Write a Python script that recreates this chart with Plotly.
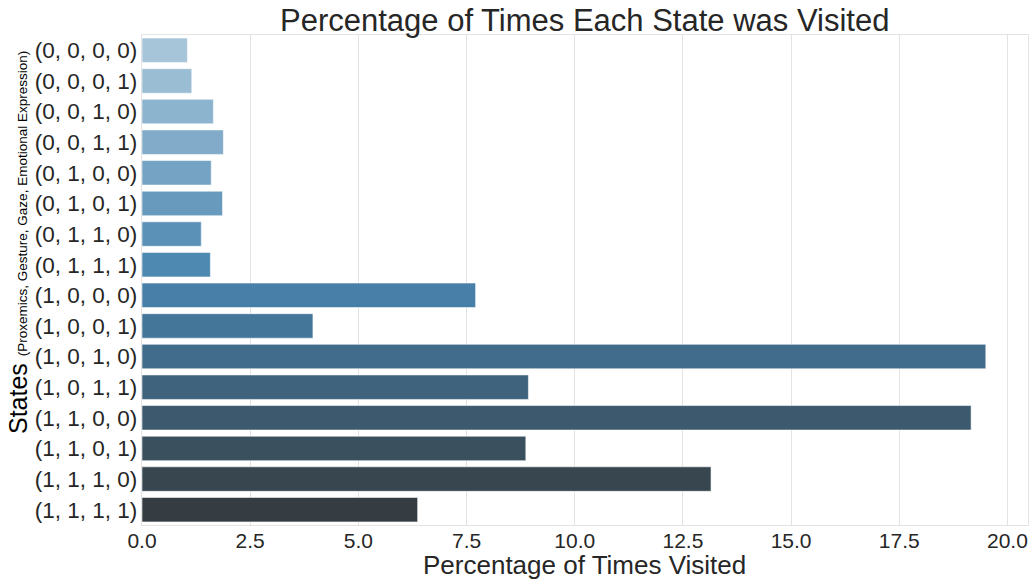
import colorsys
import numpy as np
import plotly.graph_objects as go

states = ["(0, 0, 0, 0)", "(0, 0, 0, 1)", "(0, 0, 1, 0)", "(0, 0, 1, 1)",
          "(0, 1, 0, 0)", "(0, 1, 0, 1)", "(0, 1, 1, 0)", "(0, 1, 1, 1)",
          "(1, 0, 0, 0)", "(1, 0, 0, 1)", "(1, 0, 1, 0)", "(1, 0, 1, 1)",
          "(1, 1, 0, 0)", "(1, 1, 0, 1)", "(1, 1, 1, 0)", "(1, 1, 1, 1)"]
percentages = [1.05, 1.15, 1.65, 1.88, 1.60, 1.86, 1.37, 1.58,
               7.71, 3.95, 19.50, 8.93, 19.16, 8.87, 13.15, 6.37]
x_ticks = [0, 2.5, 5, 7.5, 10, 12.5, 15, 17.5, 20]

title_text = "Percentage of Times Each State was Visited"
x_title = "Percentage of Times Visited"
y_title_main = "States"
y_title_sub = "(Proxemics, Gesture, Gaze, Emotional Expression)"

# --- seaborn "Blues_d" palette (blend of Blues + #333333), desaturated 0.75 ---
blues_pts = np.array([(247, 251, 255), (222, 235, 247), (198, 219, 239), (158, 202, 225),
                      (107, 174, 214), (66, 146, 198), (33, 113, 181), (8, 81, 156),
                      (8, 48, 107)], dtype=float) / 255.0


def interp(stops, t):
    pos = np.linspace(0, 1, len(stops))
    return np.array([np.interp(t, pos, stops[:, k]) for k in range(3)])


base = np.array([interp(blues_pts, 1 / 3), interp(blues_pts, 2 / 3), np.array([0.2, 0.2, 0.2])])
n = len(states)
colors = []
for t in np.linspace(0, 1, n + 2)[1:-1]:
    r, g, b = interp(base, t)
    h, l, s = colorsys.rgb_to_hls(r, g, b)
    r, g, b = colorsys.hls_to_rgb(h, l, s * 0.75)
    colors.append("rgb({:.0f},{:.0f},{:.0f})".format(r * 255, g * 255, b * 255))

text_color = "#262626"
grid_color = "#e3e3e3"
font_family = "Liberation Sans, Arial, sans-serif"

# plot-area geometry (pixels)
L, R, T, B = 142, 2, 35, 58
W, H = 1030, 583
pw, ph = W - L - R, H - T - B


def px_x(x):
    return (x - L) / pw


def px_y(y):
    return (H - B - y) / ph


fig = go.Figure(go.Bar(
    x=percentages, y=states, orientation="h",
    marker=dict(color=colors, line=dict(color="rgba(255,255,255,0.55)", width=1)),
    width=0.8,
))

fig.update_layout(
    width=W, height=H,
    margin=dict(l=L, r=R, t=T, b=B, autoexpand=False),
    paper_bgcolor="white", plot_bgcolor="white",
    font=dict(family=font_family, color=text_color),
    showlegend=False,
)

fig.update_xaxes(
    range=[0, max(percentages) * 1.05],
    tickvals=x_ticks, tickformat=".1f",
    tickfont=dict(size=21, color=text_color),
    showgrid=True, gridcolor=grid_color, gridwidth=1.3,
    zeroline=False, showline=True, linecolor=grid_color, linewidth=1.3, mirror=True,
    ticks="", ticklabelstandoff=-3, automargin=False,
)
fig.update_yaxes(
    autorange="reversed",
    tickfont=dict(size=22.5, color=text_color),
    showgrid=False, zeroline=False, showline=True, linecolor=grid_color, linewidth=1.3,
    mirror=True, ticks="", ticklabelstandoff=-1, automargin=False,
)

fig.add_annotation(
    text=title_text, showarrow=False, xref="paper", yref="paper",
    x=px_x(584.5), y=px_y(20), xanchor="center", yanchor="middle",
    font=dict(size=31, color=text_color),
)
fig.add_annotation(
    text=x_title, showarrow=False, xref="paper", yref="paper",
    x=px_x(584), y=px_y(565), xanchor="center", yanchor="middle",
    font=dict(size=26, color=text_color),
)
fig.add_annotation(
    text="{} <span style='font-size:13.5px'>{}</span>".format(y_title_main, y_title_sub),
    textangle=-90, showarrow=False,
    xref="paper", yref="paper",
    x=px_x(18), y=px_y(243),
    xanchor="center", yanchor="middle",
    font=dict(size=25, color="black"),
)

fig.write_html(
    "out.html",
    config={"displayModeBar": False},
    post_script="document.body.style.margin='0';document.body.style.overflow='hidden';",
)
